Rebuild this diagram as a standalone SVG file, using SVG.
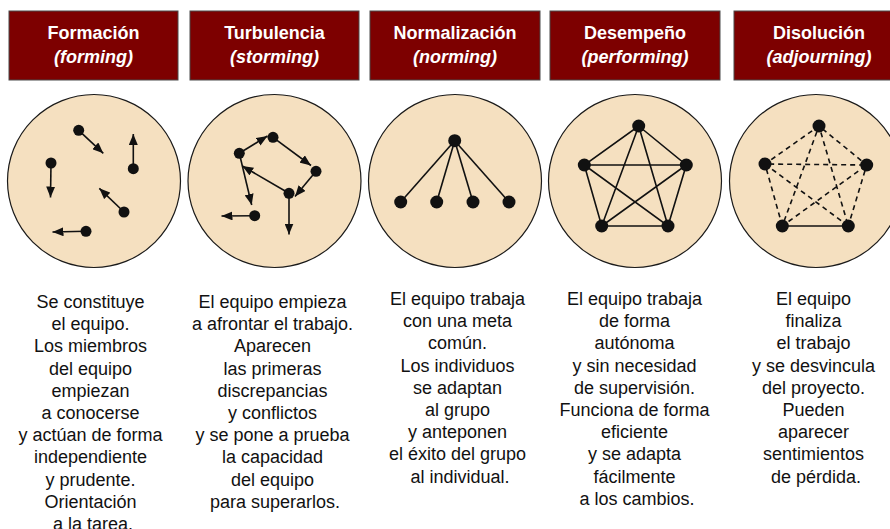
<svg xmlns="http://www.w3.org/2000/svg" width="890" height="529" viewBox="0 0 890 529">
<defs>
<style>
.hdr{fill:#7d0000;stroke:#4a4a4a;stroke-width:1}
.ht{font-family:"Liberation Sans",Arial,sans-serif;font-size:18px;font-weight:bold;fill:#ffffff;text-anchor:middle}
.hi{font-style:italic}
.disc{fill:#f5e0c0;stroke:#1a1a1a;stroke-width:1.2}
.dot{fill:#111111}
.ln{stroke:#111111;stroke-width:1.6;fill:none}
.dash{stroke-dasharray:5 4}
.arr{stroke:#111111;stroke-width:1.6;fill:none;marker-end:url(#ah)}
.bt{font-family:"Liberation Sans",Arial,sans-serif;font-size:18px;fill:#111111;text-anchor:middle}
</style>
<marker id="ah" markerUnits="userSpaceOnUse" markerWidth="11" markerHeight="9" refX="11" refY="4.5" orient="auto">
<path d="M0,0 L11,4.5 L0,9 z" fill="#111111"/>
</marker>
</defs>
<rect width="890" height="529" fill="#ffffff"/>

<g id="stage-forming">
<rect class="hdr" x="9" y="11" width="169" height="69"/>
<text class="ht" x="93.5" y="39">Formación</text>
<text class="ht hi" x="93.5" y="63">(forming)</text>
<circle class="disc" cx="94" cy="181" r="86.5"/>
<g>
<line class="arr" x1="78.7" y1="130.3" x2="103.3" y2="153.3"/>
<line class="arr" x1="133.3" y1="168.7" x2="133.3" y2="134"/>
<line class="arr" x1="51" y1="163" x2="50.5" y2="197.5"/>
<line class="arr" x1="124" y1="212" x2="99.3" y2="188.3"/>
<line class="arr" x1="86" y1="231.3" x2="52.5" y2="232"/>
<circle class="dot" cx="78.7" cy="130.3" r="5.5"/>
<circle class="dot" cx="133.3" cy="168.7" r="5.5"/>
<circle class="dot" cx="51" cy="163" r="5.5"/>
<circle class="dot" cx="124" cy="212" r="5.5"/>
<circle class="dot" cx="86" cy="231.3" r="5.5"/>
</g>
<text class="bt" x="93" y="308">
<tspan x="93" dy="0">Se constituye</tspan>
<tspan x="93" dy="22.2">el equipo.</tspan>
<tspan x="93" dy="22.2">Los miembros</tspan>
<tspan x="93" dy="22.2">del equipo</tspan>
<tspan x="93" dy="22.2">empiezan</tspan>
<tspan x="93" dy="22.2">a conocerse</tspan>
<tspan x="93" dy="22.2">y actúan de forma</tspan>
<tspan x="93" dy="22.2">independiente</tspan>
<tspan x="93" dy="22.2">y prudente.</tspan>
<tspan x="93" dy="22.2">Orientación</tspan>
<tspan x="93" dy="22.2">a la tarea.</tspan>
</text>
</g>

<g id="stage-storming">
<rect class="hdr" x="190" y="11" width="169" height="69"/>
<text class="ht" x="274.5" y="39">Turbulencia</text>
<text class="ht hi" x="274.5" y="63">(storming)</text>
<circle class="disc" cx="274.5" cy="181" r="86.5"/>
<g>
<line class="arr" x1="239.3" y1="153.3" x2="267.5" y2="136"/>
<line class="arr" x1="273" y1="137.3" x2="311" y2="165.5"/>
<line class="arr" x1="316" y1="171.3" x2="295" y2="196.5"/>
<line class="arr" x1="289" y1="193.3" x2="242.3" y2="166"/>
<line class="arr" x1="239.3" y1="153.3" x2="251.7" y2="205"/>
<line class="arr" x1="289" y1="193.3" x2="289" y2="234.5"/>
<line class="arr" x1="254.7" y1="215.7" x2="221.5" y2="216"/>
<circle class="dot" cx="239.3" cy="153.3" r="5.5"/>
<circle class="dot" cx="273" cy="137.3" r="5.5"/>
<circle class="dot" cx="316" cy="171.3" r="5.5"/>
<circle class="dot" cx="289" cy="193.3" r="5.5"/>
<circle class="dot" cx="254.7" cy="215.7" r="5.5"/>
</g>
<text class="bt" x="275" y="308">
<tspan x="275" dy="0">El equipo empieza</tspan>
<tspan x="275" dy="22.2">a afrontar el trabajo.</tspan>
<tspan x="275" dy="22.2">Aparecen</tspan>
<tspan x="275" dy="22.2">las primeras</tspan>
<tspan x="275" dy="22.2">discrepancias</tspan>
<tspan x="275" dy="22.2">y conflictos</tspan>
<tspan x="275" dy="22.2">y se pone a prueba</tspan>
<tspan x="275" dy="22.2">la capacidad</tspan>
<tspan x="275" dy="22.2">del equipo</tspan>
<tspan x="275" dy="22.2">para superarlos.</tspan>
</text>
</g>

<g id="stage-norming">
<rect class="hdr" x="370" y="11" width="170" height="69"/>
<text class="ht" x="455" y="39">Normalización</text>
<text class="ht hi" x="455" y="63">(norming)</text>
<circle class="disc" cx="455" cy="181" r="86.5"/>
<g>
<line class="ln" x1="454.7" y1="140.7" x2="400.7" y2="202"/>
<line class="ln" x1="454.7" y1="140.7" x2="436.7" y2="202"/>
<line class="ln" x1="454.7" y1="140.7" x2="473" y2="202"/>
<line class="ln" x1="454.7" y1="140.7" x2="509" y2="202"/>
<circle class="dot" cx="454.7" cy="140.7" r="6.5"/>
<circle class="dot" cx="400.7" cy="202" r="6.5"/>
<circle class="dot" cx="436.7" cy="202" r="6.5"/>
<circle class="dot" cx="473" cy="202" r="6.5"/>
<circle class="dot" cx="509" cy="202" r="6.5"/>
</g>
<text class="bt" x="460" y="305">
<tspan x="460" dy="0">El equipo trabaja</tspan>
<tspan x="460" dy="22.2">con una meta</tspan>
<tspan x="460" dy="22.2">común.</tspan>
<tspan x="460" dy="22.2">Los individuos</tspan>
<tspan x="460" dy="22.2">se adaptan</tspan>
<tspan x="460" dy="22.2">al grupo</tspan>
<tspan x="460" dy="22.2">y anteponen</tspan>
<tspan x="460" dy="22.2">el éxito del grupo</tspan>
<tspan x="460" dy="22.2">al individual.</tspan>
</text>
</g>

<g id="stage-performing">
<rect class="hdr" x="550" y="11" width="170" height="69"/>
<text class="ht" x="635" y="39">Desempeño</text>
<text class="ht hi" x="635" y="63">(performing)</text>
<circle class="disc" cx="635" cy="181" r="86.5"/>
<g>
<polygon class="ln" points="638.7,126 686.3,165 668,226 601.7,226 584.3,165"/>
<polygon class="ln" points="638.7,126 668,226 584.3,165 686.3,165 601.7,226"/>
<circle class="dot" cx="638.7" cy="126" r="6.5"/>
<circle class="dot" cx="584.3" cy="165" r="6.5"/>
<circle class="dot" cx="686.3" cy="165" r="6.5"/>
<circle class="dot" cx="601.7" cy="226" r="6.5"/>
<circle class="dot" cx="668" cy="226" r="6.5"/>
</g>
<text class="bt" x="637" y="305">
<tspan x="637" dy="0">El equipo trabaja</tspan>
<tspan x="637" dy="22.2">de forma</tspan>
<tspan x="637" dy="22.2">autónoma</tspan>
<tspan x="637" dy="22.2">y sin necesidad</tspan>
<tspan x="637" dy="22.2">de supervisión.</tspan>
<tspan x="637" dy="22.2">Funciona de forma</tspan>
<tspan x="637" dy="22.2">eficiente</tspan>
<tspan x="637" dy="22.2">y se adapta</tspan>
<tspan x="637" dy="22.2">fácilmente</tspan>
<tspan x="637" dy="22.2">a los cambios.</tspan>
</text>
</g>

<g id="stage-adjourning">
<rect class="hdr" x="734" y="11" width="170" height="69"/>
<text class="ht" x="819" y="39">Disolución</text>
<text class="ht hi" x="819" y="63">(adjourning)</text>
<circle class="disc" cx="816" cy="181" r="86.5"/>
<g>
<polyline class="ln dash" points="782.3,226 765,164 819,126 866.7,165 848.3,226"/>
<polyline class="ln dash" points="848.3,226 765,164 866.7,165 782.3,226 819,126 848.3,226"/>
<line class="ln" x1="782.3" y1="226" x2="848.3" y2="226"/>
<circle class="dot" cx="819" cy="126" r="6.5"/>
<circle class="dot" cx="765" cy="164" r="6.5"/>
<circle class="dot" cx="866.7" cy="165" r="6.5"/>
<circle class="dot" cx="782.3" cy="226" r="6.5"/>
<circle class="dot" cx="848.3" cy="226" r="6.5"/>
</g>
<text class="bt" x="816" y="305">
<tspan x="816" dy="0">El equipo</tspan>
<tspan x="816" dy="22.2">finaliza</tspan>
<tspan x="816" dy="22.2">el trabajo</tspan>
<tspan x="816" dy="22.2">y se desvincula</tspan>
<tspan x="816" dy="22.2">del proyecto.</tspan>
<tspan x="816" dy="22.2">Pueden</tspan>
<tspan x="816" dy="22.2">aparecer</tspan>
<tspan x="816" dy="22.2">sentimientos</tspan>
<tspan x="816" dy="22.2">de pérdida.</tspan>
</text>
</g>
</svg>
